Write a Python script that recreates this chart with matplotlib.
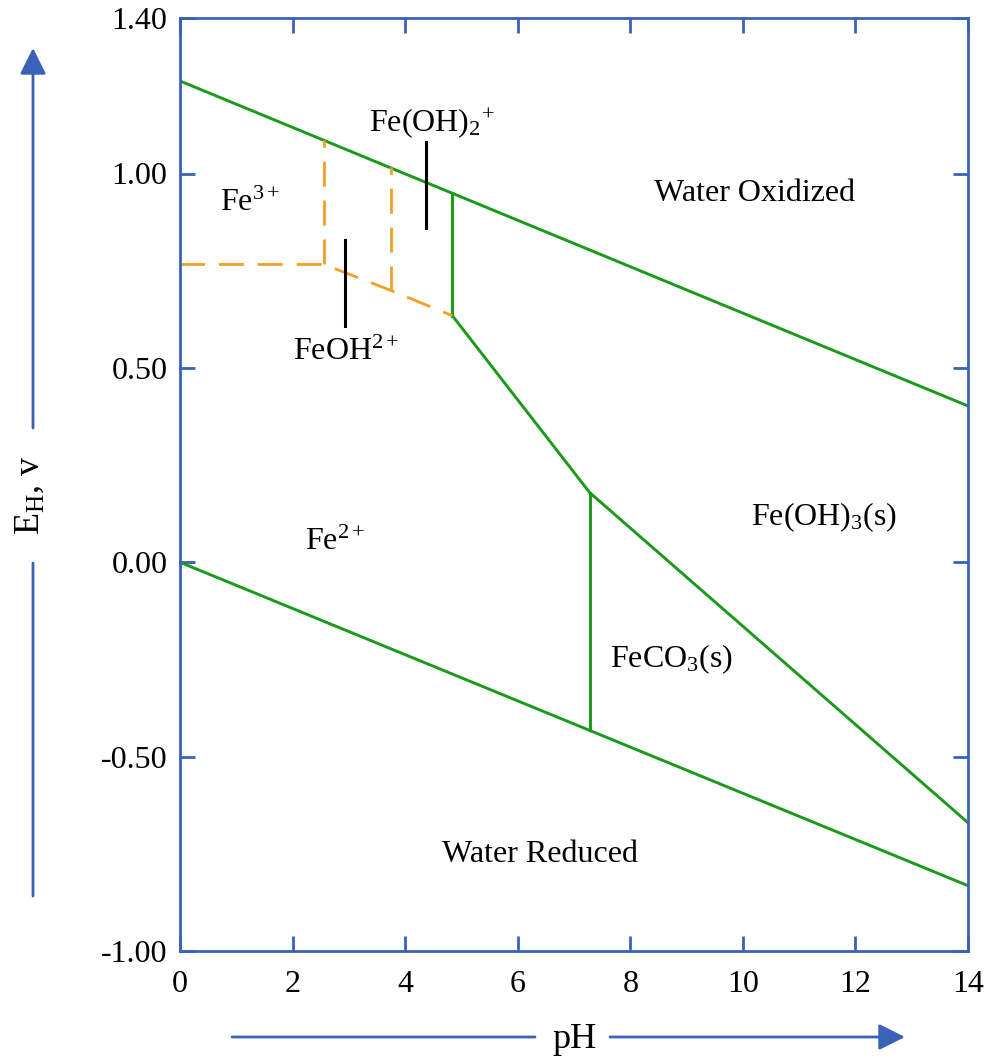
import numpy as np
import matplotlib
matplotlib.use('Agg')
import matplotlib.pyplot as plt

plt.rcParams['font.family'] = ['Liberation Serif', 'DejaVu Serif']
plt.rcParams['mathtext.fontset'] = 'custom'
plt.rcParams['mathtext.rm'] = 'Liberation Serif'
plt.rcParams['mathtext.it'] = 'Liberation Serif:italic'

# stability lines (pH, Eh)
water_ox_ph = [0, 14]
water_ox_eh = [1.238, 0.402]
water_red_ph = [0, 14]
water_red_eh = [0.0, -0.832]
fe2_feoh3_ph = [4.84, 7.28, 14]
fe2_feoh3_eh = [0.634, 0.179, -0.67]
v1_ph = [4.84, 4.84]
v1_eh = [0.949, 0.634]
v2_ph = [7.28, 7.28]
v2_eh = [0.179, -0.431]

# dashed Fe(III) species boundaries
dash_h_ph = [0, 2.56, 3.75, 4.84]
dash_h_eh = [0.766, 0.766, 0.699, 0.634]
dash_v1_ph = [2.56, 2.56]
dash_v1_eh = [0.766, 1.086]
dash_v2_ph = [3.75, 3.75]
dash_v2_eh = [0.699, 1.016]

# black marker bars
bar1_ph = [2.93, 2.93]
bar1_eh = [0.829, 0.608]
bar2_ph = [4.37, 4.37]
bar2_eh = [1.081, 0.860]

labels = [r'Fe$^{\mathrm{3+}}$', r'Fe(OH)$_{\mathrm{2}}$$^{\mathrm{+}}$', r'FeOH$^{\mathrm{2+}}$',
          'Water Oxidized', r'Fe$^{\mathrm{2+}}$', r'Fe(OH)$_{\mathrm{3}}$(s)',
          r'FeCO$_{\mathrm{3}}$(s)', 'Water Reduced']
label_ph = [1.24, 4.48, 2.95, 10.21, 2.75, 11.44, 8.73, 6.39]
label_eh = [0.904, 1.109, 0.52, 0.929, 0.032, 0.094, -0.271, -0.772]

xticks = [0, 2, 4, 6, 8, 10, 12, 14]
yticks = [-1.0, -0.5, 0.0, 0.5, 1.0, 1.4]
ytick_labels = ['-1.00', '-0.50', '0.00', '0.50', '1.00', '1.40']

green = '#1a9a1a'
orange = '#f2a024'
blue = '#3a63b8'
fs = 23

W, H = 989, 1059
fig = plt.figure(figsize=(W / 100, H / 100), dpi=100)
ax = fig.add_axes([180 / W, (H - 951) / H, (968 - 180) / W, (951 - 18) / H])

lw = 2.1
ax.plot(water_ox_ph, water_ox_eh, color=green, lw=lw)
ax.plot(water_red_ph, water_red_eh, color=green, lw=lw)
ax.plot(fe2_feoh3_ph, fe2_feoh3_eh, color=green, lw=lw)
ax.plot(v1_ph, v1_eh, color=green, lw=lw)
ax.plot(v2_ph, v2_eh, color=green, lw=lw)

for px, ey in [(dash_h_ph, dash_h_eh), (dash_v1_ph, dash_v1_eh), (dash_v2_ph, dash_v2_eh)]:
    ax.plot(px, ey, color=orange, lw=2.0, dashes=(9, 5))

ax.plot(bar1_ph, bar1_eh, color='black', lw=2.2)
ax.plot(bar2_ph, bar2_eh, color='black', lw=2.2)

for t, x, y in zip(labels, label_ph, label_eh):
    ax.text(x, y, t, ha='center', va='baseline', fontsize=fs)

ax.set_xlim(0, 14)
ax.set_ylim(-1.0, 1.4)
ax.set_xticks(xticks)
ax.set_xticklabels([str(v) for v in xticks])
ax.set_yticks(yticks)
ax.set_yticklabels(ytick_labels)
ax.tick_params(direction='in', length=11, width=2, color=blue, labelsize=fs,
               top=True, right=True, pad=9)
ax.tick_params(axis='x', pad=14)
for s in ax.spines.values():
    s.set_color(blue)
    s.set_linewidth(2)

# axis arrows drawn in figure pixels
def fpx(x, y_img):
    return (x / W, (H - y_img) / H)

arrow = dict(arrowstyle='-|>', color=blue, lw=2, mutation_scale=40, shrinkA=0, shrinkB=0)
line = dict(arrowstyle='-', color=blue, lw=2, shrinkA=0, shrinkB=0)
ax.annotate('', xy=fpx(33, 563), xytext=fpx(33, 896), xycoords='figure fraction', arrowprops=line)
ax.annotate('', xy=fpx(33, 48), xytext=fpx(33, 428), xycoords='figure fraction', arrowprops=arrow)
ax.annotate('', xy=fpx(535, 1037), xytext=fpx(232, 1037), xycoords='figure fraction', arrowprops=line)
ax.annotate('', xy=fpx(905, 1037), xytext=fpx(610, 1037), xycoords='figure fraction', arrowprops=arrow)

fig.text(*fpx(30, 495), r'E$_{\mathrm{H}}$, v', rotation=90, ha='center', va='center', fontsize=26)
fig.text(*fpx(574, 1040), 'pH', ha='center', va='center', fontsize=26)

fig.savefig('out.png', dpi=100)
